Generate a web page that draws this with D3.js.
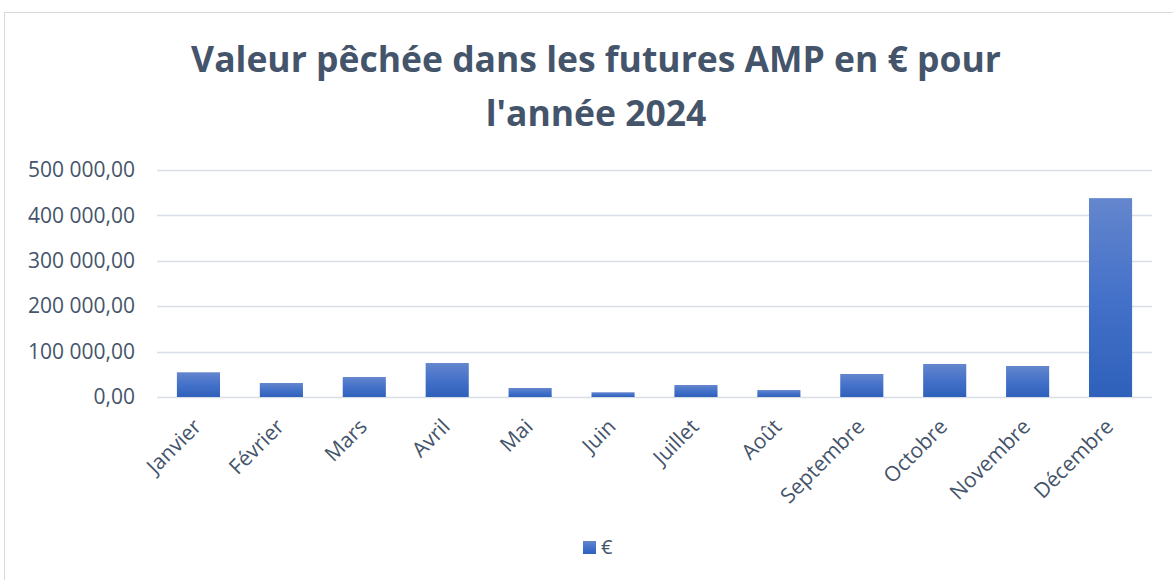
<!DOCTYPE html>
<html lang="fr">
<head>
<meta charset="utf-8">
<title>Valeur pêchée AMP 2024</title>
<script src="https://cdn.jsdelivr.net/npm/d3@7"></script>
<style>
  body { margin: 0; background: #fff; }
  text { font-family: "Open Sans", "Noto Sans", sans-serif; fill: #44546a; }
</style>
</head>
<body>
<svg id="chart" width="1173" height="580"></svg>
<script>
// data
let months = ['Janvier', 'Février', 'Mars', 'Avril', 'Mai', 'Juin', 'Juillet',
              'Août', 'Septembre', 'Octobre', 'Novembre', 'Décembre'];
let values = [54400, 30800, 44000, 74800, 19800, 10400, 26400,
              15300, 50700, 72700, 68300, 438000];
let yTicks = [0, 100000, 200000, 300000, 400000, 500000];
let titleLines = ['Valeur pêchée dans les futures AMP en € pour', "l'année 2024"];
let seriesName = '€';

let svg = d3.select('#chart');

// chart frame
svg.append('rect')
    .attr('x', 4.5).attr('y', 12.5)
    .attr('width', 1190).attr('height', 600)
    .attr('fill', 'none')
    .attr('stroke', '#d9d9d9');

let plot = { left: 157, right: 1152, top: 170, bottom: 397 };

let x = d3.scaleBand()
    .domain(months)
    .range([plot.left, plot.right])
    .paddingInner(0.48)
    .paddingOuter(0.24);

let y = d3.scaleLinear()
    .domain([0, 500000])
    .range([plot.bottom, plot.top]);

// gradient for bars
let grad = svg.append('defs').append('linearGradient')
    .attr('id', 'barGrad')
    .attr('x1', 0).attr('y1', 0).attr('x2', 0).attr('y2', 1);
grad.append('stop').attr('offset', '0%').attr('stop-color', '#6486cd');
grad.append('stop').attr('offset', '50%').attr('stop-color', '#4471c9');
grad.append('stop').attr('offset', '100%').attr('stop-color', '#2f61ba');

// gridlines
svg.append('g')
    .selectAll('line')
    .data(yTicks)
    .join('line')
    .attr('x1', plot.left).attr('x2', plot.right)
    .attr('y1', d => Math.round(y(d)) + 0.5)
    .attr('y2', d => Math.round(y(d)) + 0.5)
    .attr('stroke', '#d9dee6')
    .attr('stroke-width', 1.3);

// y axis labels
let fmt = d => d3.format(',.2f')(d).replace(/,/g, ' ').replace('.', ',');
let yAxis = d3.axisLeft(y).tickValues(yTicks).tickFormat(fmt).tickSize(0).tickPadding(0);
let yG = svg.append('g')
    .attr('transform', 'translate(135,0)')
    .call(yAxis);
yG.select('.domain').remove();
yG.selectAll('text')
    .attr('font-size', 21)
    .attr('fill', '#44546a')
    .style('font-family', '"Open Sans", sans-serif');

// bars
svg.append('g')
    .selectAll('rect')
    .data(values)
    .join('rect')
    .attr('x', (d, i) => x(months[i]))
    .attr('width', x.bandwidth())
    .attr('y', d => y(d))
    .attr('height', d => plot.bottom - y(d))
    .attr('fill', 'url(#barGrad)');

// x axis labels
let xAxis = d3.axisBottom(x).tickSize(0).tickPadding(0);
let xG = svg.append('g')
    .attr('transform', `translate(0,${plot.bottom})`)
    .call(xAxis);
xG.select('.domain').remove();
xG.selectAll('text')
    .attr('font-size', 21)
    .attr('fill', '#44546a')
    .style('font-family', '"Open Sans", sans-serif')
    .attr('text-anchor', 'end')
    .attr('dy', 0)
    .attr('transform', 'translate(4,31) rotate(-45)');

// title
let title = svg.append('g');
title.selectAll('text')
    .data(titleLines)
    .join('text')
    .attr('x', 596)
    .attr('y', (d, i) => 72 + i * 54)
    .attr('text-anchor', 'middle')
    .attr('font-weight', 'bold')
    .attr('font-size', 34)
    .attr('fill', '#44546a')
    .text(d => d);
// fit first line to the width seen in the reference
let w0 = title.select('text').node().getComputedTextLength();
title.selectAll('text').attr('font-size', 34 * 810 / w0);

// legend
let legend = svg.append('g').attr('transform', 'translate(583,541)');
legend.append('rect')
    .attr('width', 13).attr('height', 13)
    .attr('fill', 'url(#barGrad)');
legend.append('text')
    .attr('x', 18).attr('y', 13)
    .attr('font-size', 20)
    .text(seriesName);
</script>
</body>
</html>
